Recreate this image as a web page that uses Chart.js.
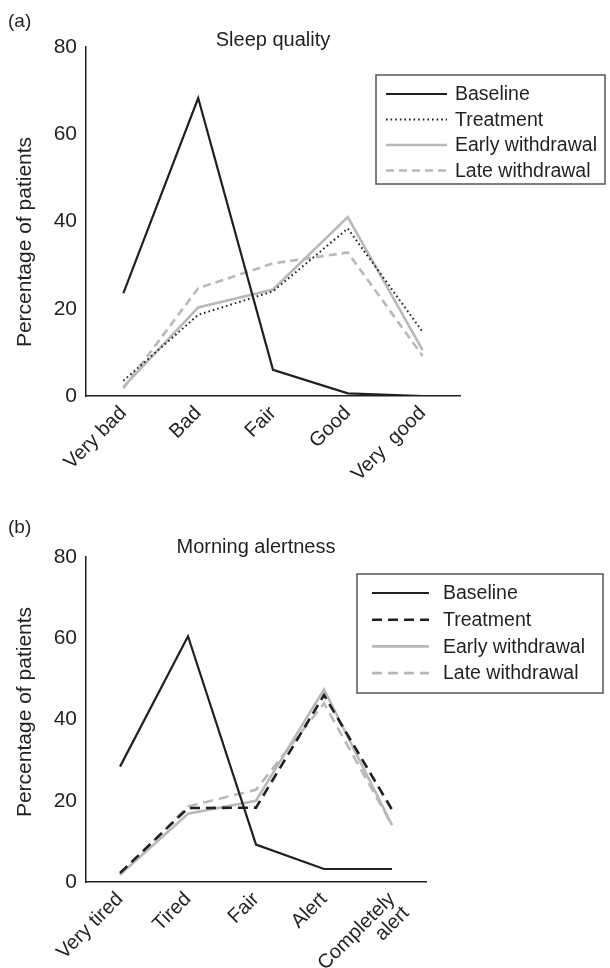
<!DOCTYPE html>
<html lang="en">
<head>
  <meta charset="UTF-8">
  <title>Sleep quality and morning alertness</title>
  <script src="https://cdn.jsdelivr.net/npm/chart.js"></script>
  <style>
    html, body { margin: 0; padding: 0; background: #fff; }
    #wrap { position: relative; width: 610px; height: 968px; }
    canvas { position: absolute; left: 0; }
    #chartA { top: 0; }
    #chartB { top: 484px; }
  </style>
</head>
<body>
  <div id="wrap">
    <canvas id="chartA" width="610" height="484"></canvas>
    <canvas id="chartB" width="610" height="484"></canvas>
  </div>

  <script>
    // (a) Sleep quality
    const sleepLabels = ['Very bad', 'Bad', 'Fair', 'Good', 'Very  good'];
    const sleepBaseline = [23.6, 68.3, 6.0, 0.6, 0];
    const sleepTreatment = [3.5, 18.6, 24.0, 38.4, 14.7];
    const sleepEarly = [2.1, 20.3, 24.4, 41.0, 10.5];
    const sleepLate = [1.8, 24.7, 30.4, 32.9, 9.2];

    // (b) Morning alertness
    const alertLabels = ['Very tired', 'Tired', 'Fair', 'Alert', ['Completely', 'alert']];
    const alertBaseline = [28.4, 60.5, 9.2, 3.2, 3.2];
    const alertTreatment = [2.2, 18.2, 18.3, 46.0, 17.8];
    const alertEarly = [1.8, 16.8, 20.0, 47.4, 14.0];
    const alertLate = [1.8, 18.6, 22.7, 44.0, 14.0];

    const yTicks = [0, 20, 40, 60, 80];
    const seriesNames = ['Baseline', 'Treatment', 'Early withdrawal', 'Late withdrawal'];

    const FONT = '"Liberation Sans", Arial, Helvetica, sans-serif';
    const BLACK = '#231f20';
    const GREY = '#b9b9bc';
    const TXT = '#231f20';

    // panel label, title, y title and boxed legend
    const decor = {
      id: 'decor',
      afterDraw(chart, args, o) {
        const ctx = chart.ctx;
        const ca = chart.chartArea;
        ctx.save();
        ctx.fillStyle = TXT;
        ctx.textBaseline = 'middle';
        ctx.textAlign = 'left';
        ctx.font = '19px ' + FONT;
        ctx.fillText(o.panel, 8, o.panelY);
        ctx.textAlign = 'center';
        ctx.font = '20px ' + FONT;
        ctx.fillText(o.title, (ca.left + ca.right) / 2, o.titleY);

        // y axis title
        ctx.save();
        ctx.translate(25, o.yTitleY);
        ctx.rotate(-Math.PI / 2);
        ctx.font = '21px ' + FONT;
        ctx.fillText('Percentage of patients', 0, 0);
        ctx.restore();

        const b = o.box;
        ctx.strokeStyle = '#555';
        ctx.lineWidth = 1.5;
        ctx.strokeRect(b.x, b.y, b.w, b.h);
        ctx.textAlign = 'left';
        ctx.font = '19.5px ' + FONT;
        chart.data.datasets.forEach((ds, i) => {
          const y = b.y + o.row0 + i * o.rowH;
          ctx.beginPath();
          ctx.strokeStyle = ds.borderColor;
          ctx.lineWidth = ds.borderWidth;
          ctx.setLineDash(ds.borderDash || []);
          ctx.moveTo(b.x + o.lineX0, y);
          ctx.lineTo(b.x + o.lineX1, y);
          ctx.stroke();
          ctx.setLineDash([]);
          ctx.fillStyle = TXT;
          ctx.fillText(ds.label, b.x + o.textX, y + 1);
        });
        ctx.restore();
      }
    };

    function makeChart(id, labels, series, styles, layoutPad, xHeight, deco) {
      const datasets = series.map((values, i) => Object.assign({
        label: seriesNames[i],
        data: values,
        pointRadius: 0,
        pointHoverRadius: 0,
        tension: 0,
        fill: false
      }, styles[i]));

      return new Chart(document.getElementById(id), {
        type: 'line',
        data: { labels: labels, datasets: datasets },
        plugins: [decor],
        options: {
          responsive: false,
          animation: false,
          devicePixelRatio: 1,
          layout: { padding: layoutPad },
          plugins: {
            legend: { display: false },
            tooltip: { enabled: false },
            decor: deco
          },
          scales: {
            x: {
              offset: true,
              grid: { display: false, drawTicks: false },
              border: { display: true, color: BLACK, width: 1.5 },
              ticks: {
                autoSkip: false,
                minRotation: 45,
                maxRotation: 45,
                padding: 7,
                color: TXT,
                font: { family: FONT, size: 20, lineHeight: 1.0 }
              },
              afterFit(scale) { scale.height = xHeight; }
            },
            y: {
              min: 0,
              max: 80,
              afterBuildTicks(scale) { scale.ticks = yTicks.map(v => ({ value: v })); },
              grid: { display: false, drawTicks: false },
              border: { display: true, color: BLACK, width: 1.5 },
              ticks: {
                padding: 9,
                color: TXT,
                font: { family: FONT, size: 21 }
              },
              afterFit(scale) { scale.width = 86; }
            }
          }
        }
      });
    }

    makeChart('chartA', sleepLabels,
      [sleepBaseline, sleepTreatment, sleepEarly, sleepLate],
      [
        { borderColor: BLACK, borderWidth: 2.2 },
        { borderColor: BLACK, borderWidth: 2, borderDash: [1.6, 3] },
        { borderColor: GREY, borderWidth: 2.6 },
        { borderColor: GREY, borderWidth: 2.6, borderDash: [8, 5] }
      ],
      { top: 47, right: 150, left: 0, bottom: 0 }, 88,
      {
        panel: '(a)', panelY: 22, title: 'Sleep quality', titleY: 40, yTitleY: 242,
        box: { x: 376, y: 75, w: 229, h: 109 },
        row0: 19, rowH: 25.5, lineX0: 10, lineX1: 71, textX: 79
      });

    makeChart('chartB', alertLabels,
      [alertBaseline, alertTreatment, alertEarly, alertLate],
      [
        { borderColor: BLACK, borderWidth: 2.2 },
        { borderColor: BLACK, borderWidth: 2.6, borderDash: [10, 6] },
        { borderColor: GREY, borderWidth: 2.6 },
        { borderColor: GREY, borderWidth: 2.6, borderDash: [10, 6] }
      ],
      { top: 73, right: 184, left: 0, bottom: 0 }, 86,
      {
        panel: '(b)', panelY: 44, title: 'Morning alertness', titleY: 63, yTitleY: 228,
        box: { x: 357, y: 90, w: 246, h: 119 },
        row0: 19, rowH: 26.7, lineX0: 15, lineX1: 72, textX: 86
      });
  </script>
</body>
</html>
